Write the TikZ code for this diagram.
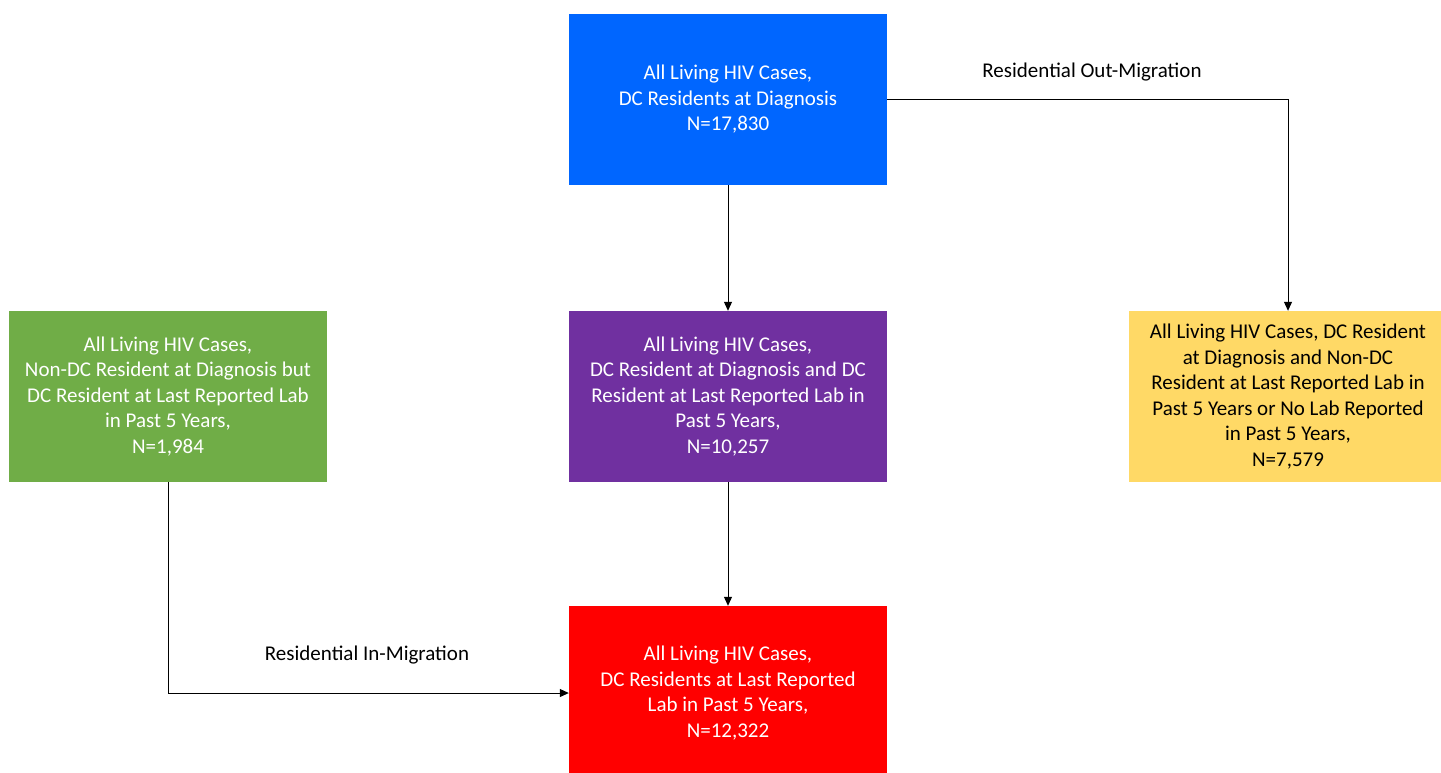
\documentclass[tikz,border=0pt]{standalone}
\usepackage{fontspec}
\setmainfont{Carlito}
\usetikzlibrary{arrows.meta}
\definecolor{boxblue}{HTML}{0066FF}
\definecolor{boxpurple}{HTML}{7030A0}
\definecolor{boxgreen}{HTML}{70AD47}
\definecolor{boxyellow}{HTML}{FFD966}
\definecolor{boxred}{HTML}{FF0000}
\begin{document}
\begin{tikzpicture}[x=1pt,y=-1pt,
		box/.style={minimum width=318pt, minimum height=171pt, inner sep=0pt,
			align=center, text=white, font=\fontsize{21}{25.5}\selectfont},
		flow/.style={-{Triangle[length=9pt,width=8pt]}, line width=1pt},
		lbl/.style={font=\fontsize{21}{25.5}\selectfont}]
	\useasboundingbox (0,0) rectangle (1441,772);
	\clip (0,0) rectangle (1441,772);
	
	% boxes
	\node[box, fill=boxblue] (alldx) at (728,99.5)
		{All Living HIV Cases,\\DC Residents at Diagnosis\\N=17,830};
	\node[box, fill=boxpurple] (dcboth) at (728,396.5)
		{All Living HIV Cases,\\DC Resident at Diagnosis and DC\\Resident at Last Reported Lab in\\Past 5 Years,\\N=10,257};
	\node[box, fill=boxgreen] (inmig) at (168,396.5)
		{All Living HIV Cases,\\Non-DC Resident at Diagnosis but\\DC Resident at Last Reported Lab\\in Past 5 Years,\\N=1,984};
	\node[box, fill=boxyellow, text=black] (outmig) at (1288,396.5)
		{All Living HIV Cases, DC Resident\\at Diagnosis and Non-DC\\Resident at Last Reported Lab in\\Past 5 Years or No Lab Reported\\in Past 5 Years,\\N=7,579};
	\node[box, fill=boxred, minimum height=174pt] (dclab) at (728,693)
		{All Living HIV Cases,\\DC Residents at Last Reported\\Lab in Past 5 Years,\\N=12,322};
	
	% labels
	\node[lbl] (outlbl) at (1092,72) {Residential Out-Migration};
	\node[lbl] (inlbl) at (367,655) {Residential In-Migration};
	
	\draw[flow] (alldx) -- (dcboth);
	\draw[flow] (dcboth) -- (dclab);
	\draw[flow] (inmig.south) |- (dclab.west);
	\draw[flow] (alldx.east) -| (outmig.north);
\end{tikzpicture}
\end{document}
